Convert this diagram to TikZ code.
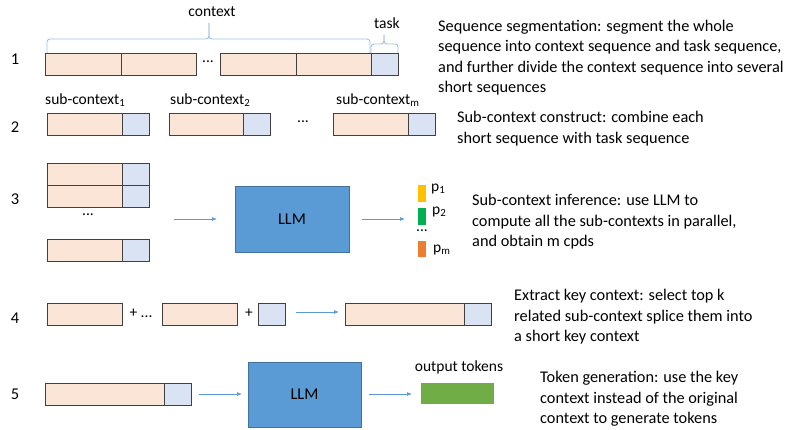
\documentclass[tikz,border=0pt]{standalone}
\usepackage{fontspec}
\setmainfont{Carlito}
\usetikzlibrary{arrows.meta}
\definecolor{pinkf}{HTML}{FBE5D6}
\definecolor{bluef}{HTML}{DAE3F3}
\definecolor{bord}{HTML}{404040}
\definecolor{llmf}{HTML}{5B9BD5}
\definecolor{llmd}{HTML}{41719C}
\definecolor{arrc}{HTML}{5B9BD5}
\definecolor{yel}{HTML}{FFC000}
\definecolor{grn}{HTML}{00B050}
\definecolor{org}{HTML}{ED7D31}
\definecolor{outg}{HTML}{70AD47}
\definecolor{brc}{HTML}{9DC3E6}
\tikzset{
  x=1pt,y=-1pt,
  base/.style={draw=bord,line width=0.8pt,inner sep=0pt,outer sep=0pt,minimum height=22pt},
  pbox/.style={base,fill=pinkf},
  bbox/.style={base,fill=bluef,minimum width=27pt},
  llm/.style={draw=llmd,fill=llmf,line width=0.8pt,inner sep=0pt,outer sep=0pt,font=\fontsize{16.5}{19}\selectfont},
  bar/.style={inner sep=0pt,outer sep=0pt,minimum width=8pt},
  lbl/.style={inner sep=0pt,font=\fontsize{15.5}{18}\selectfont},
  num/.style={inner sep=0pt,font=\fontsize{16.5}{19}\selectfont},
  desc/.style={inner sep=0pt,anchor=north west,align=left,font=\fontsize{16.3}{20.5}\selectfont},
  arr/.style={draw=arrc,line width=0.7pt,-{Latex[length=5pt,width=4pt]}},
  brace/.style={draw=brc,line width=0.9pt,rounded corners=3pt},
}
\begin{document}
\begin{tikzpicture}
\useasboundingbox (0,0) rectangle (792,430);
% row numbers
\node[num] (n1) at (15,59) {1};
\node[num] (n2) at (15,127) {2};
\node[num] (n3) at (15,199) {3};
\node[num] (n4) at (15,318) {4};
\node[num] (n5) at (15,394) {5};
% row 1
\node[pbox,minimum width=76pt] (r1a) at (83,64) {};
\node[pbox,minimum width=75pt] (r1b) at (158.5,64) {};
\node[lbl] (r1dots) at (208,62) {...};
\node[pbox,minimum width=76pt] (r1c) at (258,64) {};
\node[pbox,minimum width=75pt] (r1d) at (333.5,64) {};
\node[bbox] (r1t) at (384.5,64) {};
\draw[brace] (47,53) -- (47,39) -- (209,39) -- (209,23);
\draw[brace] (209,23) -- (209,39) -- (370,39) -- (370,53);
\draw[brace] (371,53) -- (371,44) -- (384,44) -- (384,35);
\draw[brace] (384,35) -- (384,44) -- (398,44) -- (398,53);
\node[lbl] (lctx) at (212,12) {context};
\node[lbl] (ltask) at (387,23) {task};
% row 2
\node[lbl,anchor=west] (l21) at (45,100) {sub-context\textsubscript{1}};
\node[lbl,anchor=west] (l22) at (170,100) {sub-context\textsubscript{2}};
\node[lbl,anchor=west] (l2m) at (336,100) {sub-context\textsubscript{m}};
\node[pbox,minimum width=75pt] (r2a) at (84.5,124) {};
\node[bbox] (r2at) at (135.5,124) {};
\node[pbox,minimum width=74pt] (r2b) at (206,124) {};
\node[bbox] (r2bt) at (256.5,124) {};
\node[lbl] (r2dots) at (303,122) {...};
\node[pbox,minimum width=75pt] (r2c) at (370.5,124) {};
\node[bbox] (r2ct) at (421.5,124) {};
% row 3
\node[pbox,minimum width=75pt] (r3a) at (84.5,174) {};
\node[bbox] (r3at) at (135.5,174) {};
\node[pbox,minimum width=75pt] (r3b) at (84.5,196) {};
\node[bbox] (r3bt) at (135.5,196) {};
\node[lbl] (r3dots) at (88,215) {...};
\node[pbox,minimum width=75pt] (r3c) at (84.5,250) {};
\node[bbox] (r3ct) at (135.5,250) {};
\coordinate (a3s) at (174,219);
\coordinate (a3e) at (217,219);
\draw[arr] (a3s) -- (a3e);
\node[llm,minimum width=114pt,minimum height=66pt] (llm1) at (292,219) {LLM};
\coordinate (a3s2) at (362,219);
\coordinate (a3e2) at (405,219);
\draw[arr] (a3s2) -- (a3e2);
\node[bar,fill=yel,minimum height=17pt] (py) at (422,193.5) {};
\node[bar,fill=grn,minimum height=17pt] (pg) at (422,216.5) {};
\node[lbl] (pdots) at (422,231) {...};
\node[bar,fill=org,minimum height=16pt] (po) at (422,249) {};
\node[lbl,anchor=west] (p1) at (431,189) {p\textsubscript{1}};
\node[lbl,anchor=west] (p2) at (432,212) {p\textsubscript{2}};
\node[lbl,anchor=west] (pm) at (433,250) {p\textsubscript{m}};
% row 4
\node[pbox,minimum width=75pt] (r4a) at (84.5,314) {};
\node[lbl] (plus1) at (141,313) {+ ...};
\node[pbox,minimum width=75pt] (r4b) at (199.5,314) {};
\node[lbl] (plus2) at (249,313) {+};
\node[bbox] (r4t) at (271.5,314) {};
\coordinate (a4s) at (296,312);
\coordinate (a4e) at (339,312);
\draw[arr] (a4s) -- (a4e);
\node[pbox,minimum width=119pt] (r4c) at (404.5,314) {};
\node[bbox] (r4ct) at (477.5,314) {};
% row 5
\node[pbox,minimum width=119pt] (r5a) at (104.5,394) {};
\node[bbox] (r5at) at (177.5,394) {};
\coordinate (a5s) at (199,394);
\coordinate (a5e) at (242,394);
\draw[arr] (a5s) -- (a5e);
\node[llm,minimum width=113pt,minimum height=65pt] (llm2) at (304.5,394.5) {LLM};
\coordinate (a5s2) at (369,394);
\coordinate (a5e2) at (412,394);
\draw[arr] (a5s2) -- (a5e2);
\node[inner sep=0pt,outer sep=0pt,fill=outg,minimum width=73pt,minimum height=21pt] (outt) at (457.5,393.5) {};
\node[lbl] (lout) at (459,367) {output tokens};
% descriptions
\node[desc] (d1) at (438,19.5) {Sequence segmentation: segment the whole\\sequence into context sequence and task sequence,\\and further divide the context sequence into several\\short sequences};
\node[desc] (d2) at (457,111) {Sub-context construct: combine each\\short sequence with task sequence};
\node[desc] (d3) at (472,194) {Sub-context inference: use LLM to\\compute all the sub-contexts in parallel,\\and obtain m cpds};
\node[desc] (d4) at (514,289) {Extract key context: select top k\\related sub-context splice them into\\a short key context};
\node[desc] (d5) at (540,371) {Token generation: use the key\\context instead of the original\\context to generate tokens};
\end{tikzpicture}
\end{document}
